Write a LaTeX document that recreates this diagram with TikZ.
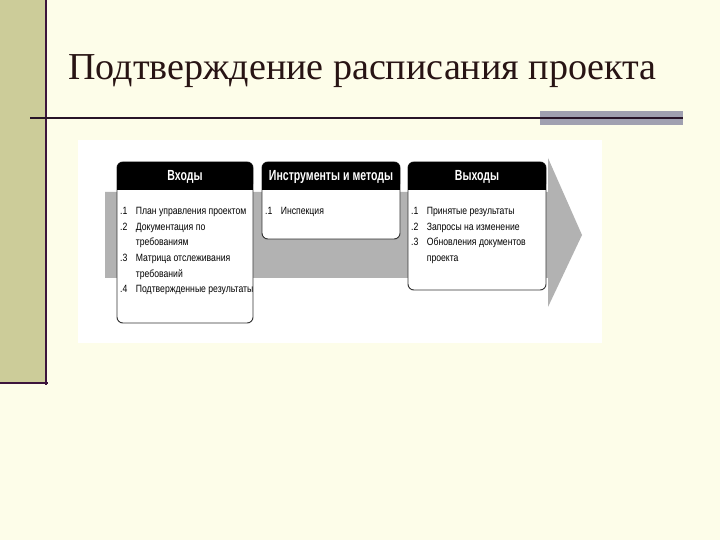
\documentclass[tikz,border=0pt]{standalone}
\usepackage{fontspec}
\setmainfont{Liberation Serif}
\newfontfamily\cond[FakeStretch=0.72]{Liberation Sans}
\newfontfamily\condi[FakeStretch=0.82]{Liberation Sans}
\begin{document}
\begin{tikzpicture}[x=0.03cm,y=-0.03cm,
  hdr/.style={font=\cond\bfseries\fontsize{12.5}{13}\selectfont,text=white,inner sep=0pt},
  itm/.style={font=\condi\fontsize{9}{13.4}\selectfont,anchor=north west,align=left,inner sep=0pt},
  box/.style={draw=black!80,line width=0.8pt,fill=white,rounded corners=5pt}]
\useasboundingbox (0,0) rectangle (720,540);
\fill[fill={rgb,255:red,253;green,253;blue,233}] (0,0) rectangle (720,540);
\fill[fill={rgb,255:red,204;green,204;blue,153}] (0,0) rectangle (46,383);
\draw[line width=2.5pt,draw={rgb,255:red,60;green,20;blue,60}] (46,0) -- (46,385);
\draw[line width=2.5pt,draw={rgb,255:red,60;green,20;blue,60}] (0,383) -- (48,383);
\node[anchor=base west,font=\fontsize{32.5}{35}\selectfont,text={rgb,255:red,40;green,20;blue,20},inner sep=0pt] (title) at (68,80) {Подтверждение расписания проекта};
\fill[fill={rgb,255:red,160;green,160;blue,176}] (540,111) rectangle (683,125);
\draw[line width=1.2pt,draw={rgb,255:red,40;green,20;blue,40}] (30,118) -- (683,118);
\fill[white] (78,140) rectangle (602,343);
\fill[black!30] (105,192) -- (548,192) -- (548,158) -- (582,235) -- (548,307) -- (548,278) -- (105,278) -- cycle;
\draw[box] (117,162) rectangle (253,323);
\draw[box] (262,162) rectangle (400,239);
\draw[box] (408,162) rectangle (546,290);
\fill[black,rounded corners=5pt] (117,162) -- (253,162) -- (253,190) -- (117,190) -- cycle;
\fill[black] (117,180) rectangle (253,190);
\fill[black,rounded corners=5pt] (262,162) -- (400,162) -- (400,190) -- (262,190) -- cycle;
\fill[black] (262,180) rectangle (400,190);
\fill[black,rounded corners=5pt] (408,162) -- (546,162) -- (546,190) -- (408,190) -- cycle;
\fill[black] (408,180) rectangle (546,190);
\node[hdr] (h1) at (185,177) {Входы};
\node[hdr] (h2) at (331,177) {Инструменты и методы};
\node[hdr] (h3) at (477,177) {Выходы};
\node[itm] (t1) at (120,207) {.1\hspace{0.8em}План управления проектом\\.2\hspace{0.8em}Документация по\\\phantom{.2}\hspace{0.8em}требованиям\\.3\hspace{0.8em}Матрица отслеживания\\\phantom{.3}\hspace{0.8em}требований\\.4\hspace{0.8em}Подтвержденные результаты};
\node[itm] (t2) at (265,207) {.1\hspace{0.8em}Инспекция};
\node[itm] (t3) at (411,207) {.1\hspace{0.8em}Принятые результаты\\.2\hspace{0.8em}Запросы на изменение\\.3\hspace{0.8em}Обновления документов\\\phantom{.3}\hspace{0.8em}проекта};
\end{tikzpicture}
\end{document}
